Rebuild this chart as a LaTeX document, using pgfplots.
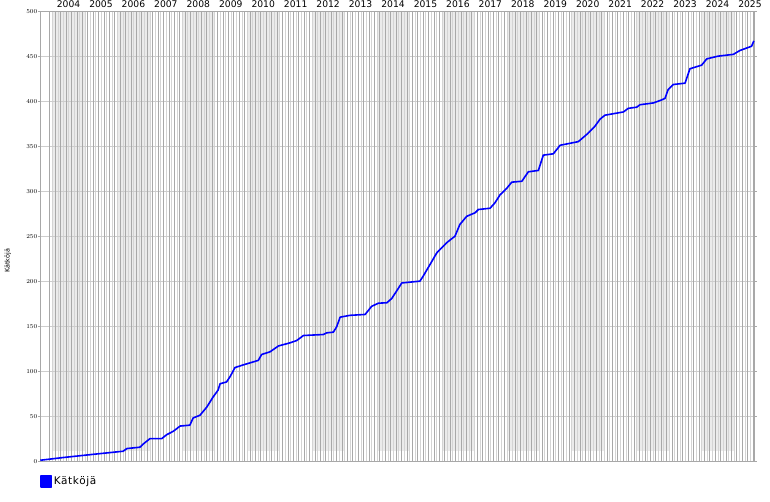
\documentclass[border=0pt]{standalone}
\usepackage{pgfplots}
\pgfplotsset{compat=1.18}
\usepackage{fontspec}
\setmainfont{DejaVu Sans}
\newfontfamily\tickfont{DejaVu Sans Mono}[LetterSpace=25]
\newfontfamily\legfont{DejaVu Sans}[LetterSpace=6]
\definecolor{band}{HTML}{EBEBEB}
\definecolor{vdark}{HTML}{A8A8A8}
\definecolor{vlight}{HTML}{D4D4D4}
\definecolor{hgrid}{HTML}{CDCDCD}
\definecolor{axgray}{HTML}{A8A8A8}
\begin{document}
\begin{tikzpicture}
\begin{axis}[
  set layers=standard,
  at={(40pt,40pt)}, anchor=south west,
  scale only axis, width=714.5pt, height=450pt,
  xmin=3.621, xmax=25.64, ymin=0, ymax=500,
  axis line style={axgray, line width=1pt},
  xtick={4.5,5.5,...,25.5},
  xticklabels={2004,2005,2006,2007,2008,2009,2010,2011,2012,2013,2014,2015,2016,2017,2018,2019,2020,2021,2022,2023,2024,2025},
  xticklabel pos=upper,
  xtick style={draw=none},
  xticklabel style={font=\fontsize{9.2}{10}\selectfont, inner sep=1pt},
  extra x ticks={3.929,4.0957,...,25.6},
  extra x tick labels={},
  extra x tick style={grid=major, major grid style={vdark, line width=1pt}, major tick length=0pt, tick style={draw=none}},
  minor xtick={4.0123,4.179,...,25.6},
  xminorgrids=true,
  minor grid style={vlight, line width=1pt},
  minor tick length=0pt,
  ytick={0,50,...,500},
  ymajorgrids=true,
  major grid style={hgrid, line width=1pt},
  tick align=outside,
  ytick style={axgray, line width=1pt},
  major tick length=2pt,
  yticklabel style={font=\tickfont\fontsize{6}{7}\selectfont, inner sep=0.5pt},
  ylabel={Kätköjä},
  ylabel style={at={(axis description cs:-0.045,0.445)}, anchor=center, font=\fontsize{6.5}{7}\selectfont},
  legend style={at={(axis description cs:0,0)}, anchor=north west, draw=none, fill=none, inner sep=0pt, outer sep=0pt, yshift=-14pt, nodes={inner sep=1.5pt}, font=\legfont\fontsize{10.5}{12}\selectfont, legend cell align=left},
  legend image code/.code={\fill[blue] (0pt,-5.35pt) rectangle (10.7pt,5.35pt);},
]
\pgfplotsextra{
\begin{pgfonlayer}{axis background}
\fill[band] (axis cs:4,11) rectangle (axis cs:5,500);
\fill[band] (axis cs:6,11) rectangle (axis cs:7,500);
\fill[band] (axis cs:8,11) rectangle (axis cs:9,500);
\fill[band] (axis cs:10,11) rectangle (axis cs:11,500);
\fill[band] (axis cs:12,11) rectangle (axis cs:13,500);
\fill[band] (axis cs:14,11) rectangle (axis cs:15,500);
\fill[band] (axis cs:16,11) rectangle (axis cs:17,500);
\fill[band] (axis cs:18,11) rectangle (axis cs:19,500);
\fill[band] (axis cs:20,11) rectangle (axis cs:21,500);
\fill[band] (axis cs:22,11) rectangle (axis cs:23,500);
\fill[band] (axis cs:24,11) rectangle (axis cs:25,500);
\end{pgfonlayer}
}
\addplot[color={rgb,255:red,0;green,0;blue,255}, line width=1.6pt, line join=round] table {
x y
3.63 1
4.33 4
5.37 8
6.18 11
6.30 14
6.70 15.5
6.80 19
7.01 25
7.37 25
7.53 29.5
7.72 33
7.94 39
8.24 40
8.34 48
8.55 51
8.76 60
8.95 71
9.11 79
9.17 86
9.37 88
9.48 94
9.63 104
9.89 107
10.35 112
10.45 118.5
10.71 121.5
10.97 128
11.33 131.5
11.53 134
11.74 139.6
12.35 140.7
12.46 142.6
12.66 143.3
12.76 149
12.87 160
13.17 162
13.64 163
13.84 172
14.05 175.5
14.31 176
14.46 180.7
14.61 189
14.77 198
15.33 200
15.43 205.6
15.64 218.5
15.85 231.5
16.00 237
16.15 242.6
16.41 250
16.56 263
16.77 272
17.03 276
17.13 279.6
17.49 281
17.64 287
17.80 296
18.00 303
18.16 310
18.47 311
18.67 321.5
18.98 323
19.13 340
19.44 341.5
19.65 351
20.21 355
20.47 363
20.72 372
20.88 380
21.03 384.4
21.60 388
21.75 392
22.01 393.3
22.11 396
22.52 398
22.73 400.7
22.88 403
22.98 413
23.14 418.5
23.50 420
23.65 436
24.01 440
24.17 447
24.52 450
24.99 452
25.19 456.3
25.55 461
25.62 467
};
\addlegendentry{Kätköjä}
\end{axis}
\path (0pt,0pt) rectangle (770pt,500pt);
\end{tikzpicture}
\end{document}
